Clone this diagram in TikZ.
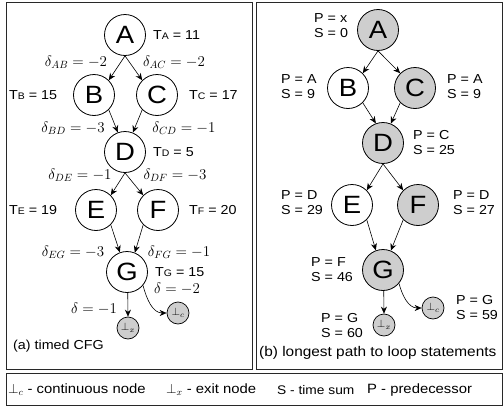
\RequirePackage{fix-cm}
\documentclass[tikz,border=0pt]{standalone}
\usepackage[no-math]{fontspec}
\setmainfont{Liberation Sans}[FakeStretch=1.1]
\usetikzlibrary{arrows.meta}
\definecolor{nodegray}{RGB}{206,206,206}
\definecolor{framegray}{RGB}{40,40,40}
\newcommand\Tsub[1]{T{\fontsize{9.5}{9.5}\selectfont #1}}
\tikzset{
  bignode/.style={circle, draw, line width=0.8pt, minimum size=41pt, inner sep=0pt, font=\fontsize{25}{25}\selectfont},
  graynode/.style={bignode, fill=nodegray},
  smallnode/.style={circle, draw, line width=0.7pt, fill=nodegray, minimum size=22pt, inner sep=0pt, font=\fontsize{11}{11}\selectfont},
  edge/.style={-{Stealth[length=7pt,width=6pt]}, line width=0.6pt},
  lbl/.style={font=\fontsize{13}{15}\selectfont, inner sep=0pt, align=left, anchor=west},
  dl/.style={font=\fontsize{15}{15}\selectfont, inner sep=0pt},
  captext/.style={font=\fontsize{13}{14}\selectfont, inner sep=0pt, anchor=west},
  captextb/.style={font=\fontsize{14}{16}\selectfont, inner sep=0pt, anchor=west},
  leg/.style={font=\fontsize{13.5}{15}\selectfont, inner sep=0pt, anchor=west},
  panel/.style={draw=framegray, line width=0.9pt}
}
\begin{document}
\begin{tikzpicture}[x=1pt,y=-1pt]
\useasboundingbox (0,0) rectangle (504,407);
% panels
\draw[panel] (6,2) rectangle (252,369);
\draw[panel] (256,2) rectangle (502,369);
\draw[panel] (6,373) rectangle (502,405);

% ---------- (a) timed CFG ----------
\node[bignode] (aA) at (125,35) {A};
\node[bignode] (aB) at (94,95) {B};
\node[bignode] (aC) at (157,95) {C};
\node[bignode] (aD) at (125,152) {D};
\node[bignode] (aE) at (96,210) {E};
\node[bignode] (aF) at (158,210) {F};
\node[bignode] (aG) at (127,272) {G};
\node[smallnode] (aX) at (128,328) {$\perp_x$};
\node[smallnode] (aC2) at (178,313) {$\perp_c$};

\draw[edge] (aA.south) -- (aB.45);
\draw[edge] (aA.south) -- (aC.135);
\draw[edge] (aB.-45) -- (aD.110);
\draw[edge] (aC.-135) -- (aD.68);
\draw[edge] (aD.south) -- (aE.45);
\draw[edge] (aD.south) -- (aF.135);
\draw[edge] (aE.-45) -- (aG.110);
\draw[edge] (aF.-135) -- (aG.68);
\draw[edge] (aG.-88) -- (aX.north);
\draw[edge] (aG.-40) to[out=-75,in=180] (aC2.west);

\node[lbl] (tA) at (153,35) {\Tsub{A} = 11};
\node[lbl] (tB) at (9,95) {\Tsub{B} = 15};
\node[lbl] (tC) at (189,95) {\Tsub{C} = 17};
\node[lbl] (tD) at (153,152) {\Tsub{D} = 5};
\node[lbl] (tE) at (9,210) {\Tsub{E} = 19};
\node[lbl] (tF) at (189,210) {\Tsub{F} = 20};
\node[lbl] (tG) at (155,272) {\Tsub{G} = 15};

\node[dl] (dAB) at (76,62) {$\delta_{AB}=-2$};
\node[dl] (dAC) at (174,62) {$\delta_{AC}=-2$};
\node[dl] (dBD) at (73,128) {$\delta_{BD}=-3$};
\node[dl] (dCD) at (184,128) {$\delta_{CD}=-1$};
\node[dl] (dDE) at (80,175) {$\delta_{DE}=-1$};
\node[dl] (dDF) at (175,175) {$\delta_{DF}=-3$};
\node[dl] (dEG) at (73,252) {$\delta_{EG}=-3$};
\node[dl] (dFG) at (179,252) {$\delta_{FG}=-1$};
\node[dl] (dG2) at (177,289) {$\delta=-2$};
\node[dl] (dG1) at (94,309) {$\delta=-1$};

\node[captext] (capa) at (13,346) {(a) timed CFG};

% ---------- (b) longest path ----------
\node[graynode] (bA) at (378,30) {A};
\node[bignode] (bB) at (348,88) {B};
\node[graynode] (bC) at (415,88) {C};
\node[graynode] (bD) at (383,143) {D};
\node[bignode] (bE) at (352,205) {E};
\node[graynode] (bF) at (418,205) {F};
\node[graynode] (bG) at (383,270) {G};
\node[smallnode] (bX) at (384,325) {$\perp_x$};
\node[smallnode] (bC2) at (433,308) {$\perp_c$};

\draw[edge] (bA.south) -- (bB.45);
\draw[edge] (bA.south) -- (bC.135);
\draw[edge] (bB.-45) -- (bD.110);
\draw[edge] (bC.-135) -- (bD.68);
\draw[edge] (bD.south) -- (bE.45);
\draw[edge] (bD.south) -- (bF.135);
\draw[edge] (bE.-45) -- (bG.110);
\draw[edge] (bF.-135) -- (bG.68);
\draw[edge] (bG.-88) -- (bX.north);
\draw[edge] (bG.-40) to[out=-75,in=180] (bC2.west);

\node[lbl] (pA) at (314,26) {P = x\\S = 0};
\node[lbl] (pB) at (281,87) {P = A\\S = 9};
\node[lbl] (pC) at (447,87) {P = A\\S = 9};
\node[lbl] (pD) at (413,143) {P = C\\S = 25};
\node[lbl] (pE) at (281,203) {P = D\\S = 29};
\node[lbl] (pF) at (453,203) {P = D\\S = 27};
\node[lbl] (pG) at (311,270) {P = F\\S = 46};
\node[lbl] (pX) at (321,326) {P = G\\S = 60};
\node[lbl] (pC2) at (456,308) {P = G\\S = 59};

\node[captextb] (capb) at (259,353) {(b) longest path to loop statements};

% ---------- legend ----------
\node[leg] (l1) at (8,390) {$\perp_c$ - continuous node};
\node[leg] (l2) at (166,390) {$\perp_x$ - exit node};
\node[leg, font=\fontsize{12.5}{15}\selectfont] (l3) at (277,390) {S - time sum};
\node[leg] (l4) at (367,390) {P - predecessor};
\end{tikzpicture}
\end{document}
